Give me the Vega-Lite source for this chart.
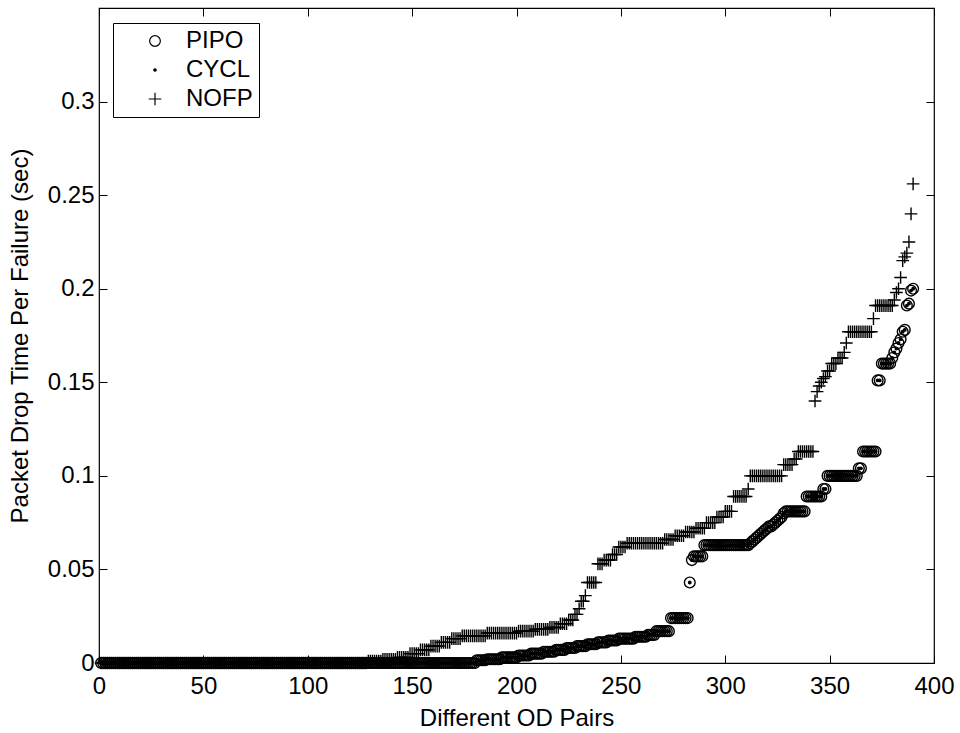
{
"$schema": "https://vega.github.io/schema/vega-lite/v6.json",
"width": 835, "height": 655,
"autosize": {"type": "none"},
"padding": {"left": 99, "top": 8, "right": 26, "bottom": 70},
"background": "white",
"config": {"font": "Liberation Sans", "view": {"stroke": "black", "strokeWidth": 1.2}},
"data": {"values": [
{"i":1,"PIPO":0,"CYCL":0,"NOFP":0},{"i":2,"PIPO":0,"CYCL":0,"NOFP":0},{"i":3,"PIPO":0,"CYCL":0,"NOFP":0},{"i":4,"PIPO":0,"CYCL":0,"NOFP":0},{"i":5,"PIPO":0,"CYCL":0,"NOFP":0},{"i":6,"PIPO":0,"CYCL":0,"NOFP":0},{"i":7,"PIPO":0,"CYCL":0,"NOFP":0},{"i":8,"PIPO":0,"CYCL":0,"NOFP":0},{"i":9,"PIPO":0,"CYCL":0,"NOFP":0},{"i":10,"PIPO":0,"CYCL":0,"NOFP":0},
{"i":11,"PIPO":0,"CYCL":0,"NOFP":0},{"i":12,"PIPO":0,"CYCL":0,"NOFP":0},{"i":13,"PIPO":0,"CYCL":0,"NOFP":0},{"i":14,"PIPO":0,"CYCL":0,"NOFP":0},{"i":15,"PIPO":0,"CYCL":0,"NOFP":0},{"i":16,"PIPO":0,"CYCL":0,"NOFP":0},{"i":17,"PIPO":0,"CYCL":0,"NOFP":0},{"i":18,"PIPO":0,"CYCL":0,"NOFP":0},{"i":19,"PIPO":0,"CYCL":0,"NOFP":0},{"i":20,"PIPO":0,"CYCL":0,"NOFP":0},
{"i":21,"PIPO":0,"CYCL":0,"NOFP":0},{"i":22,"PIPO":0,"CYCL":0,"NOFP":0},{"i":23,"PIPO":0,"CYCL":0,"NOFP":0},{"i":24,"PIPO":0,"CYCL":0,"NOFP":0},{"i":25,"PIPO":0,"CYCL":0,"NOFP":0},{"i":26,"PIPO":0,"CYCL":0,"NOFP":0},{"i":27,"PIPO":0,"CYCL":0,"NOFP":0},{"i":28,"PIPO":0,"CYCL":0,"NOFP":0},{"i":29,"PIPO":0,"CYCL":0,"NOFP":0},{"i":30,"PIPO":0,"CYCL":0,"NOFP":0},
{"i":31,"PIPO":0,"CYCL":0,"NOFP":0},{"i":32,"PIPO":0,"CYCL":0,"NOFP":0},{"i":33,"PIPO":0,"CYCL":0,"NOFP":0},{"i":34,"PIPO":0,"CYCL":0,"NOFP":0},{"i":35,"PIPO":0,"CYCL":0,"NOFP":0},{"i":36,"PIPO":0,"CYCL":0,"NOFP":0},{"i":37,"PIPO":0,"CYCL":0,"NOFP":0},{"i":38,"PIPO":0,"CYCL":0,"NOFP":0},{"i":39,"PIPO":0,"CYCL":0,"NOFP":0},{"i":40,"PIPO":0,"CYCL":0,"NOFP":0},
{"i":41,"PIPO":0,"CYCL":0,"NOFP":0},{"i":42,"PIPO":0,"CYCL":0,"NOFP":0},{"i":43,"PIPO":0,"CYCL":0,"NOFP":0},{"i":44,"PIPO":0,"CYCL":0,"NOFP":0},{"i":45,"PIPO":0,"CYCL":0,"NOFP":0},{"i":46,"PIPO":0,"CYCL":0,"NOFP":0},{"i":47,"PIPO":0,"CYCL":0,"NOFP":0},{"i":48,"PIPO":0,"CYCL":0,"NOFP":0},{"i":49,"PIPO":0,"CYCL":0,"NOFP":0},{"i":50,"PIPO":0,"CYCL":0,"NOFP":0},
{"i":51,"PIPO":0,"CYCL":0,"NOFP":0},{"i":52,"PIPO":0,"CYCL":0,"NOFP":0},{"i":53,"PIPO":0,"CYCL":0,"NOFP":0},{"i":54,"PIPO":0,"CYCL":0,"NOFP":0},{"i":55,"PIPO":0,"CYCL":0,"NOFP":0},{"i":56,"PIPO":0,"CYCL":0,"NOFP":0},{"i":57,"PIPO":0,"CYCL":0,"NOFP":0},{"i":58,"PIPO":0,"CYCL":0,"NOFP":0},{"i":59,"PIPO":0,"CYCL":0,"NOFP":0},{"i":60,"PIPO":0,"CYCL":0,"NOFP":0},
{"i":61,"PIPO":0,"CYCL":0,"NOFP":0},{"i":62,"PIPO":0,"CYCL":0,"NOFP":0},{"i":63,"PIPO":0,"CYCL":0,"NOFP":0},{"i":64,"PIPO":0,"CYCL":0,"NOFP":0},{"i":65,"PIPO":0,"CYCL":0,"NOFP":0},{"i":66,"PIPO":0,"CYCL":0,"NOFP":0},{"i":67,"PIPO":0,"CYCL":0,"NOFP":0},{"i":68,"PIPO":0,"CYCL":0,"NOFP":0},{"i":69,"PIPO":0,"CYCL":0,"NOFP":0},{"i":70,"PIPO":0,"CYCL":0,"NOFP":0},
{"i":71,"PIPO":0,"CYCL":0,"NOFP":0},{"i":72,"PIPO":0,"CYCL":0,"NOFP":0},{"i":73,"PIPO":0,"CYCL":0,"NOFP":0},{"i":74,"PIPO":0,"CYCL":0,"NOFP":0},{"i":75,"PIPO":0,"CYCL":0,"NOFP":0},{"i":76,"PIPO":0,"CYCL":0,"NOFP":0},{"i":77,"PIPO":0,"CYCL":0,"NOFP":0},{"i":78,"PIPO":0,"CYCL":0,"NOFP":0},{"i":79,"PIPO":0,"CYCL":0,"NOFP":0},{"i":80,"PIPO":0,"CYCL":0,"NOFP":0},
{"i":81,"PIPO":0,"CYCL":0,"NOFP":0},{"i":82,"PIPO":0,"CYCL":0,"NOFP":0},{"i":83,"PIPO":0,"CYCL":0,"NOFP":0},{"i":84,"PIPO":0,"CYCL":0,"NOFP":0},{"i":85,"PIPO":0,"CYCL":0,"NOFP":0},{"i":86,"PIPO":0,"CYCL":0,"NOFP":0},{"i":87,"PIPO":0,"CYCL":0,"NOFP":0},{"i":88,"PIPO":0,"CYCL":0,"NOFP":0},{"i":89,"PIPO":0,"CYCL":0,"NOFP":0},{"i":90,"PIPO":0,"CYCL":0,"NOFP":0},
{"i":91,"PIPO":0,"CYCL":0,"NOFP":0},{"i":92,"PIPO":0,"CYCL":0,"NOFP":0},{"i":93,"PIPO":0,"CYCL":0,"NOFP":0},{"i":94,"PIPO":0,"CYCL":0,"NOFP":0},{"i":95,"PIPO":0,"CYCL":0,"NOFP":0},{"i":96,"PIPO":0,"CYCL":0,"NOFP":0},{"i":97,"PIPO":0,"CYCL":0,"NOFP":0},{"i":98,"PIPO":0,"CYCL":0,"NOFP":0},{"i":99,"PIPO":0,"CYCL":0,"NOFP":0},{"i":100,"PIPO":0,"CYCL":0,"NOFP":0},
{"i":101,"PIPO":0,"CYCL":0,"NOFP":0},{"i":102,"PIPO":0,"CYCL":0,"NOFP":0},{"i":103,"PIPO":0,"CYCL":0,"NOFP":0},{"i":104,"PIPO":0,"CYCL":0,"NOFP":0},{"i":105,"PIPO":0,"CYCL":0,"NOFP":0},{"i":106,"PIPO":0,"CYCL":0,"NOFP":0},{"i":107,"PIPO":0,"CYCL":0,"NOFP":0},{"i":108,"PIPO":0,"CYCL":0,"NOFP":0},{"i":109,"PIPO":0,"CYCL":0,"NOFP":0},{"i":110,"PIPO":0,"CYCL":0,"NOFP":0},
{"i":111,"PIPO":0,"CYCL":0,"NOFP":0},{"i":112,"PIPO":0,"CYCL":0,"NOFP":0},{"i":113,"PIPO":0,"CYCL":0,"NOFP":0},{"i":114,"PIPO":0,"CYCL":0,"NOFP":0},{"i":115,"PIPO":0,"CYCL":0,"NOFP":0},{"i":116,"PIPO":0,"CYCL":0,"NOFP":0},{"i":117,"PIPO":0,"CYCL":0,"NOFP":0},{"i":118,"PIPO":0,"CYCL":0,"NOFP":0},{"i":119,"PIPO":0,"CYCL":0,"NOFP":0},{"i":120,"PIPO":0,"CYCL":0,"NOFP":0},
{"i":121,"PIPO":0,"CYCL":0,"NOFP":0},{"i":122,"PIPO":0,"CYCL":0,"NOFP":0},{"i":123,"PIPO":0,"CYCL":0,"NOFP":0},{"i":124,"PIPO":0,"CYCL":0,"NOFP":0},{"i":125,"PIPO":0,"CYCL":0,"NOFP":0},{"i":126,"PIPO":0,"CYCL":0,"NOFP":0},{"i":127,"PIPO":0,"CYCL":0,"NOFP":0},{"i":128,"PIPO":0,"CYCL":0,"NOFP":0},{"i":129,"PIPO":0,"CYCL":0,"NOFP":0.001},{"i":130,"PIPO":0,"CYCL":0,"NOFP":0.001},
{"i":131,"PIPO":0,"CYCL":0,"NOFP":0.001},{"i":132,"PIPO":0,"CYCL":0,"NOFP":0.001},{"i":133,"PIPO":0,"CYCL":0,"NOFP":0.001},{"i":134,"PIPO":0,"CYCL":0,"NOFP":0.001},{"i":135,"PIPO":0,"CYCL":0,"NOFP":0.001},{"i":136,"PIPO":0,"CYCL":0,"NOFP":0.002},{"i":137,"PIPO":0,"CYCL":0,"NOFP":0.002},{"i":138,"PIPO":0,"CYCL":0,"NOFP":0.002},{"i":139,"PIPO":0,"CYCL":0,"NOFP":0.002},{"i":140,"PIPO":0,"CYCL":0,"NOFP":0.002},
{"i":141,"PIPO":0,"CYCL":0,"NOFP":0.002},{"i":142,"PIPO":0,"CYCL":0,"NOFP":0.002},{"i":143,"PIPO":0,"CYCL":0,"NOFP":0.003},{"i":144,"PIPO":0,"CYCL":0,"NOFP":0.003},{"i":145,"PIPO":0,"CYCL":0,"NOFP":0.003},{"i":146,"PIPO":0,"CYCL":0,"NOFP":0.003},{"i":147,"PIPO":0,"CYCL":0,"NOFP":0.003},{"i":148,"PIPO":0,"CYCL":0,"NOFP":0.003},{"i":149,"PIPO":0,"CYCL":0,"NOFP":0.005},{"i":150,"PIPO":0,"CYCL":0,"NOFP":0.005},
{"i":151,"PIPO":0,"CYCL":0,"NOFP":0.005},{"i":152,"PIPO":0,"CYCL":0,"NOFP":0.005},{"i":153,"PIPO":0,"CYCL":0,"NOFP":0.005},{"i":154,"PIPO":0,"CYCL":0,"NOFP":0.007},{"i":155,"PIPO":0,"CYCL":0,"NOFP":0.007},{"i":156,"PIPO":0,"CYCL":0,"NOFP":0.007},{"i":157,"PIPO":0,"CYCL":0,"NOFP":0.007},{"i":158,"PIPO":0,"CYCL":0,"NOFP":0.007},{"i":159,"PIPO":0,"CYCL":0,"NOFP":0.009},{"i":160,"PIPO":0,"CYCL":0,"NOFP":0.009},
{"i":161,"PIPO":0,"CYCL":0,"NOFP":0.009},{"i":162,"PIPO":0,"CYCL":0,"NOFP":0.009},{"i":163,"PIPO":0,"CYCL":0,"NOFP":0.009},{"i":164,"PIPO":0,"CYCL":0,"NOFP":0.011},{"i":165,"PIPO":0,"CYCL":0,"NOFP":0.011},{"i":166,"PIPO":0,"CYCL":0,"NOFP":0.011},{"i":167,"PIPO":0,"CYCL":0,"NOFP":0.011},{"i":168,"PIPO":0,"CYCL":0,"NOFP":0.011},{"i":169,"PIPO":0,"CYCL":0,"NOFP":0.013},{"i":170,"PIPO":0,"CYCL":0,"NOFP":0.013},
{"i":171,"PIPO":0,"CYCL":0,"NOFP":0.013},{"i":172,"PIPO":0,"CYCL":0,"NOFP":0.013},{"i":173,"PIPO":0,"CYCL":0,"NOFP":0.013},{"i":174,"PIPO":0,"CYCL":0,"NOFP":0.0145},{"i":175,"PIPO":0,"CYCL":0,"NOFP":0.0145},{"i":176,"PIPO":0,"CYCL":0,"NOFP":0.0145},{"i":177,"PIPO":0,"CYCL":0,"NOFP":0.0145},{"i":178,"PIPO":0,"CYCL":0,"NOFP":0.0145},{"i":179,"PIPO":0,"CYCL":0,"NOFP":0.0145},{"i":180,"PIPO":0,"CYCL":0,"NOFP":0.0145},
{"i":181,"PIPO":0.0015,"CYCL":0.0015,"NOFP":0.0145},{"i":182,"PIPO":0.0015,"CYCL":0.0015,"NOFP":0.0145},{"i":183,"PIPO":0.0015,"CYCL":0.0015,"NOFP":0.0145},{"i":184,"PIPO":0.0015,"CYCL":0.0015,"NOFP":0.0145},{"i":185,"PIPO":0.0015,"CYCL":0.0015,"NOFP":0.0145},{"i":186,"PIPO":0.002,"CYCL":0.002,"NOFP":0.016},{"i":187,"PIPO":0.002,"CYCL":0.002,"NOFP":0.016},{"i":188,"PIPO":0.002,"CYCL":0.002,"NOFP":0.016},{"i":189,"PIPO":0.002,"CYCL":0.002,"NOFP":0.016},{"i":190,"PIPO":0.002,"CYCL":0.002,"NOFP":0.016},
{"i":191,"PIPO":0.002,"CYCL":0.002,"NOFP":0.016},{"i":192,"PIPO":0.002,"CYCL":0.002,"NOFP":0.016},{"i":193,"PIPO":0.003,"CYCL":0.003,"NOFP":0.016},{"i":194,"PIPO":0.003,"CYCL":0.003,"NOFP":0.016},{"i":195,"PIPO":0.003,"CYCL":0.003,"NOFP":0.016},{"i":196,"PIPO":0.003,"CYCL":0.003,"NOFP":0.016},{"i":197,"PIPO":0.003,"CYCL":0.003,"NOFP":0.016},{"i":198,"PIPO":0.003,"CYCL":0.003,"NOFP":0.016},{"i":199,"PIPO":0.003,"CYCL":0.003,"NOFP":0.016},{"i":200,"PIPO":0.003,"CYCL":0.003,"NOFP":0.016},
{"i":201,"PIPO":0.004,"CYCL":0.004,"NOFP":0.017},{"i":202,"PIPO":0.004,"CYCL":0.004,"NOFP":0.017},{"i":203,"PIPO":0.004,"CYCL":0.004,"NOFP":0.017},{"i":204,"PIPO":0.004,"CYCL":0.004,"NOFP":0.017},{"i":205,"PIPO":0.004,"CYCL":0.004,"NOFP":0.017},{"i":206,"PIPO":0.004,"CYCL":0.004,"NOFP":0.017},{"i":207,"PIPO":0.005,"CYCL":0.005,"NOFP":0.017},{"i":208,"PIPO":0.005,"CYCL":0.005,"NOFP":0.017},{"i":209,"PIPO":0.005,"CYCL":0.005,"NOFP":0.018},{"i":210,"PIPO":0.005,"CYCL":0.005,"NOFP":0.018},
{"i":211,"PIPO":0.005,"CYCL":0.005,"NOFP":0.018},{"i":212,"PIPO":0.005,"CYCL":0.005,"NOFP":0.018},{"i":213,"PIPO":0.006,"CYCL":0.006,"NOFP":0.018},{"i":214,"PIPO":0.006,"CYCL":0.006,"NOFP":0.018},{"i":215,"PIPO":0.006,"CYCL":0.006,"NOFP":0.018},{"i":216,"PIPO":0.006,"CYCL":0.006,"NOFP":0.019},{"i":217,"PIPO":0.006,"CYCL":0.006,"NOFP":0.019},{"i":218,"PIPO":0.006,"CYCL":0.006,"NOFP":0.019},{"i":219,"PIPO":0.007,"CYCL":0.007,"NOFP":0.019},{"i":220,"PIPO":0.007,"CYCL":0.007,"NOFP":0.019},
{"i":221,"PIPO":0.007,"CYCL":0.007,"NOFP":0.021},{"i":222,"PIPO":0.007,"CYCL":0.007,"NOFP":0.021},{"i":223,"PIPO":0.007,"CYCL":0.007,"NOFP":0.021},{"i":224,"PIPO":0.008,"CYCL":0.008,"NOFP":0.021},{"i":225,"PIPO":0.008,"CYCL":0.008,"NOFP":0.023},{"i":226,"PIPO":0.008,"CYCL":0.008,"NOFP":0.023},{"i":227,"PIPO":0.008,"CYCL":0.008,"NOFP":0.023},{"i":228,"PIPO":0.008,"CYCL":0.008,"NOFP":0.026},{"i":229,"PIPO":0.009,"CYCL":0.009,"NOFP":0.026},{"i":230,"PIPO":0.009,"CYCL":0.009,"NOFP":0.029},
{"i":231,"PIPO":0.009,"CYCL":0.009,"NOFP":0.033},{"i":232,"PIPO":0.009,"CYCL":0.009,"NOFP":0.033},{"i":233,"PIPO":0.009,"CYCL":0.009,"NOFP":0.036},{"i":234,"PIPO":0.01,"CYCL":0.01,"NOFP":0.043},{"i":235,"PIPO":0.01,"CYCL":0.01,"NOFP":0.043},{"i":236,"PIPO":0.01,"CYCL":0.01,"NOFP":0.043},{"i":237,"PIPO":0.01,"CYCL":0.01,"NOFP":0.043},{"i":238,"PIPO":0.01,"CYCL":0.01,"NOFP":0.043},{"i":239,"PIPO":0.011,"CYCL":0.011,"NOFP":0.053},{"i":240,"PIPO":0.011,"CYCL":0.011,"NOFP":0.053},
{"i":241,"PIPO":0.011,"CYCL":0.011,"NOFP":0.053},{"i":242,"PIPO":0.011,"CYCL":0.011,"NOFP":0.055},{"i":243,"PIPO":0.011,"CYCL":0.011,"NOFP":0.055},{"i":244,"PIPO":0.012,"CYCL":0.012,"NOFP":0.055},{"i":245,"PIPO":0.012,"CYCL":0.012,"NOFP":0.055},{"i":246,"PIPO":0.012,"CYCL":0.012,"NOFP":0.058},{"i":247,"PIPO":0.012,"CYCL":0.012,"NOFP":0.058},{"i":248,"PIPO":0.012,"CYCL":0.012,"NOFP":0.058},{"i":249,"PIPO":0.013,"CYCL":0.013,"NOFP":0.062},{"i":250,"PIPO":0.013,"CYCL":0.013,"NOFP":0.062},
{"i":251,"PIPO":0.013,"CYCL":0.013,"NOFP":0.062},{"i":252,"PIPO":0.013,"CYCL":0.013,"NOFP":0.062},{"i":253,"PIPO":0.013,"CYCL":0.013,"NOFP":0.064},{"i":254,"PIPO":0.013,"CYCL":0.013,"NOFP":0.064},{"i":255,"PIPO":0.013,"CYCL":0.013,"NOFP":0.064},{"i":256,"PIPO":0.013,"CYCL":0.013,"NOFP":0.064},{"i":257,"PIPO":0.014,"CYCL":0.014,"NOFP":0.064},{"i":258,"PIPO":0.014,"CYCL":0.014,"NOFP":0.064},{"i":259,"PIPO":0.014,"CYCL":0.014,"NOFP":0.064},{"i":260,"PIPO":0.014,"CYCL":0.014,"NOFP":0.064},
{"i":261,"PIPO":0.014,"CYCL":0.014,"NOFP":0.064},{"i":262,"PIPO":0.014,"CYCL":0.014,"NOFP":0.064},{"i":263,"PIPO":0.015,"CYCL":0.015,"NOFP":0.064},{"i":264,"PIPO":0.015,"CYCL":0.015,"NOFP":0.064},{"i":265,"PIPO":0.015,"CYCL":0.015,"NOFP":0.064},{"i":266,"PIPO":0.015,"CYCL":0.015,"NOFP":0.064},{"i":267,"PIPO":0.017,"CYCL":0.017,"NOFP":0.064},{"i":268,"PIPO":0.017,"CYCL":0.017,"NOFP":0.064},{"i":269,"PIPO":0.017,"CYCL":0.017,"NOFP":0.064},{"i":270,"PIPO":0.017,"CYCL":0.017,"NOFP":0.064},
{"i":271,"PIPO":0.017,"CYCL":0.017,"NOFP":0.066},{"i":272,"PIPO":0.017,"CYCL":0.017,"NOFP":0.066},{"i":273,"PIPO":0.017,"CYCL":0.017,"NOFP":0.066},{"i":274,"PIPO":0.024,"CYCL":0.024,"NOFP":0.066},{"i":275,"PIPO":0.024,"CYCL":0.024,"NOFP":0.066},{"i":276,"PIPO":0.024,"CYCL":0.024,"NOFP":0.068},{"i":277,"PIPO":0.024,"CYCL":0.024,"NOFP":0.068},{"i":278,"PIPO":0.024,"CYCL":0.024,"NOFP":0.068},{"i":279,"PIPO":0.024,"CYCL":0.024,"NOFP":0.068},{"i":280,"PIPO":0.024,"CYCL":0.024,"NOFP":0.068},
{"i":281,"PIPO":0.024,"CYCL":0.024,"NOFP":0.07},{"i":282,"PIPO":0.024,"CYCL":0.024,"NOFP":0.07},{"i":283,"PIPO":0.043,"CYCL":0.043,"NOFP":0.07},{"i":284,"PIPO":0.055,"CYCL":0.055,"NOFP":0.07},{"i":285,"PIPO":0.057,"CYCL":0.057,"NOFP":0.07},{"i":286,"PIPO":0.057,"CYCL":0.057,"NOFP":0.072},{"i":287,"PIPO":0.057,"CYCL":0.057,"NOFP":0.072},{"i":288,"PIPO":0.057,"CYCL":0.057,"NOFP":0.072},{"i":289,"PIPO":0.057,"CYCL":0.057,"NOFP":0.072},{"i":290,"PIPO":0.063,"CYCL":0.063,"NOFP":0.072},
{"i":291,"PIPO":0.063,"CYCL":0.063,"NOFP":0.075},{"i":292,"PIPO":0.063,"CYCL":0.063,"NOFP":0.075},{"i":293,"PIPO":0.063,"CYCL":0.063,"NOFP":0.075},{"i":294,"PIPO":0.063,"CYCL":0.063,"NOFP":0.075},{"i":295,"PIPO":0.063,"CYCL":0.063,"NOFP":0.075},{"i":296,"PIPO":0.063,"CYCL":0.063,"NOFP":0.078},{"i":297,"PIPO":0.063,"CYCL":0.063,"NOFP":0.078},{"i":298,"PIPO":0.063,"CYCL":0.063,"NOFP":0.078},{"i":299,"PIPO":0.063,"CYCL":0.063,"NOFP":0.078},{"i":300,"PIPO":0.063,"CYCL":0.063,"NOFP":0.081},
{"i":301,"PIPO":0.063,"CYCL":0.063,"NOFP":0.081},{"i":302,"PIPO":0.063,"CYCL":0.063,"NOFP":0.081},{"i":303,"PIPO":0.063,"CYCL":0.063,"NOFP":0.081},{"i":304,"PIPO":0.063,"CYCL":0.063,"NOFP":0.089},{"i":305,"PIPO":0.063,"CYCL":0.063,"NOFP":0.089},{"i":306,"PIPO":0.063,"CYCL":0.063,"NOFP":0.089},{"i":307,"PIPO":0.063,"CYCL":0.063,"NOFP":0.089},{"i":308,"PIPO":0.063,"CYCL":0.063,"NOFP":0.089},{"i":309,"PIPO":0.063,"CYCL":0.063,"NOFP":0.089},{"i":310,"PIPO":0.063,"CYCL":0.063,"NOFP":0.089},
{"i":311,"PIPO":0.063,"CYCL":0.063,"NOFP":0.093},{"i":312,"PIPO":0.064,"CYCL":0.064,"NOFP":0.1},{"i":313,"PIPO":0.065,"CYCL":0.065,"NOFP":0.1},{"i":314,"PIPO":0.066,"CYCL":0.066,"NOFP":0.1},{"i":315,"PIPO":0.067,"CYCL":0.067,"NOFP":0.1},{"i":316,"PIPO":0.068,"CYCL":0.068,"NOFP":0.1},{"i":317,"PIPO":0.069,"CYCL":0.069,"NOFP":0.1},{"i":318,"PIPO":0.07,"CYCL":0.07,"NOFP":0.1},{"i":319,"PIPO":0.071,"CYCL":0.071,"NOFP":0.1},{"i":320,"PIPO":0.072,"CYCL":0.072,"NOFP":0.1},
{"i":321,"PIPO":0.073,"CYCL":0.073,"NOFP":0.1},{"i":322,"PIPO":0.073,"CYCL":0.073,"NOFP":0.1},{"i":323,"PIPO":0.074,"CYCL":0.074,"NOFP":0.1},{"i":324,"PIPO":0.075,"CYCL":0.075,"NOFP":0.1},{"i":325,"PIPO":0.076,"CYCL":0.076,"NOFP":0.1},{"i":326,"PIPO":0.077,"CYCL":0.077,"NOFP":0.1},{"i":327,"PIPO":0.078,"CYCL":0.078,"NOFP":0.1},{"i":328,"PIPO":0.08,"CYCL":0.08,"NOFP":0.106},{"i":329,"PIPO":0.081,"CYCL":0.081,"NOFP":0.106},{"i":330,"PIPO":0.081,"CYCL":0.081,"NOFP":0.106},
{"i":331,"PIPO":0.081,"CYCL":0.081,"NOFP":0.106},{"i":332,"PIPO":0.081,"CYCL":0.081,"NOFP":0.106},{"i":333,"PIPO":0.081,"CYCL":0.081,"NOFP":0.109},{"i":334,"PIPO":0.081,"CYCL":0.081,"NOFP":0.109},{"i":335,"PIPO":0.081,"CYCL":0.081,"NOFP":0.113},{"i":336,"PIPO":0.081,"CYCL":0.081,"NOFP":0.113},{"i":337,"PIPO":0.081,"CYCL":0.081,"NOFP":0.113},{"i":338,"PIPO":0.081,"CYCL":0.081,"NOFP":0.113},{"i":339,"PIPO":0.089,"CYCL":0.089,"NOFP":0.113},{"i":340,"PIPO":0.089,"CYCL":0.089,"NOFP":0.113},
{"i":341,"PIPO":0.089,"CYCL":0.089,"NOFP":0.113},{"i":342,"PIPO":0.089,"CYCL":0.089,"NOFP":0.113},{"i":343,"PIPO":0.089,"CYCL":0.089,"NOFP":0.14},{"i":344,"PIPO":0.089,"CYCL":0.089,"NOFP":0.145},{"i":345,"PIPO":0.089,"CYCL":0.089,"NOFP":0.148},{"i":346,"PIPO":0.089,"CYCL":0.089,"NOFP":0.15},{"i":347,"PIPO":0.093,"CYCL":0.093,"NOFP":0.152},{"i":348,"PIPO":0.093,"CYCL":0.093,"NOFP":0.153},{"i":349,"PIPO":0.1,"CYCL":0.1,"NOFP":0.156},{"i":350,"PIPO":0.1,"CYCL":0.1,"NOFP":0.156},
{"i":351,"PIPO":0.1,"CYCL":0.1,"NOFP":0.16},{"i":352,"PIPO":0.1,"CYCL":0.1,"NOFP":0.16},{"i":353,"PIPO":0.1,"CYCL":0.1,"NOFP":0.16},{"i":354,"PIPO":0.1,"CYCL":0.1,"NOFP":0.163},{"i":355,"PIPO":0.1,"CYCL":0.1,"NOFP":0.163},{"i":356,"PIPO":0.1,"CYCL":0.1,"NOFP":0.163},{"i":357,"PIPO":0.1,"CYCL":0.1,"NOFP":0.166},{"i":358,"PIPO":0.1,"CYCL":0.1,"NOFP":0.171},{"i":359,"PIPO":0.1,"CYCL":0.1,"NOFP":0.177},{"i":360,"PIPO":0.1,"CYCL":0.1,"NOFP":0.177},
{"i":361,"PIPO":0.1,"CYCL":0.1,"NOFP":0.177},{"i":362,"PIPO":0.1,"CYCL":0.1,"NOFP":0.177},{"i":363,"PIPO":0.1,"CYCL":0.1,"NOFP":0.177},{"i":364,"PIPO":0.104,"CYCL":0.104,"NOFP":0.177},{"i":365,"PIPO":0.104,"CYCL":0.104,"NOFP":0.177},{"i":366,"PIPO":0.113,"CYCL":0.113,"NOFP":0.177},{"i":367,"PIPO":0.113,"CYCL":0.113,"NOFP":0.177},{"i":368,"PIPO":0.113,"CYCL":0.113,"NOFP":0.177},{"i":369,"PIPO":0.113,"CYCL":0.113,"NOFP":0.177},{"i":370,"PIPO":0.113,"CYCL":0.113,"NOFP":0.177},
{"i":371,"PIPO":0.113,"CYCL":0.113,"NOFP":0.184},{"i":372,"PIPO":0.113,"CYCL":0.113,"NOFP":0.191},{"i":373,"PIPO":0.151,"CYCL":0.151,"NOFP":0.191},{"i":374,"PIPO":0.151,"CYCL":0.151,"NOFP":0.191},{"i":375,"PIPO":0.16,"CYCL":0.16,"NOFP":0.191},{"i":376,"PIPO":0.16,"CYCL":0.16,"NOFP":0.191},{"i":377,"PIPO":0.16,"CYCL":0.16,"NOFP":0.191},{"i":378,"PIPO":0.16,"CYCL":0.16,"NOFP":0.191},{"i":379,"PIPO":0.16,"CYCL":0.16,"NOFP":0.191},{"i":380,"PIPO":0.163,"CYCL":0.163,"NOFP":0.191},
{"i":381,"PIPO":0.166,"CYCL":0.166,"NOFP":0.194},{"i":382,"PIPO":0.168,"CYCL":0.168,"NOFP":0.198},{"i":383,"PIPO":0.171,"CYCL":0.171,"NOFP":0.2},{"i":384,"PIPO":0.173,"CYCL":0.173,"NOFP":0.206},{"i":385,"PIPO":0.177,"CYCL":0.177,"NOFP":0.215},{"i":386,"PIPO":0.178,"CYCL":0.178,"NOFP":0.217},{"i":387,"PIPO":0.191,"CYCL":0.191,"NOFP":0.219},{"i":388,"PIPO":0.192,"CYCL":0.192,"NOFP":0.225},{"i":389,"PIPO":0.199,"CYCL":0.199,"NOFP":0.24},{"i":390,"PIPO":0.2,"CYCL":0.2,"NOFP":0.256}
]},
"transform": [{"fold": ["PIPO", "CYCL", "NOFP"], "as": ["series", "value"]}],
"layer": [
{
"mark": {"type": "point", "filled": false, "stroke": "black", "strokeWidth": 1.4, "opacity": 1},
"encoding": {
"x": {"field": "i", "type": "quantitative", "scale": {"domain": [0, 400], "nice": false, "zero": false},
 "axis": {"title": "Different OD Pairs", "values": [0,50,100,150,200,250,300,350,400], "grid": false, "domain": false, "tickSize": -8, "tickColor": "black", "tickWidth": 1, "labelFontSize": 24, "labelColor": "black", "labelPadding": 19, "labelFlush": false, "titleFontSize": 24, "titleFontWeight": "normal", "titleColor": "black", "titlePadding": 8}},
"y": {"field": "value", "type": "quantitative", "scale": {"domain": [0, 0.35], "nice": false},
 "axis": {"title": "Packet Drop Time Per Failure (sec)", "values": [0,0.05,0.1,0.15,0.2,0.25,0.3], "format": "~g", "grid": false, "domain": false, "tickSize": -8, "tickColor": "black", "tickWidth": 1, "labelFontSize": 24, "labelColor": "black", "labelPadding": 13, "labelFlush": false, "titleFontSize": 24, "titleFontWeight": "normal", "titleColor": "black", "titlePadding": 15}},
"shape": {"field": "series", "type": "nominal", "scale": {"domain": ["PIPO", "CYCL", "NOFP"], "range": ["circle", "circle", "M-1,0H1M0,-1V1"]},
 "legend": {"title": null, "orient": "none", "legendX": 14, "legendY": 15, "labelFontSize": 24, "labelColor": "black", "padding": 6, "strokeColor": "black", "fillColor": "white", "symbolOffset": 24, "labelOffset": 19, "rowPadding": 5, "symbolStrokeColor": "black", "symbolStrokeWidth": 1.2}},
"size": {"field": "series", "type": "nominal", "scale": {"type": "ordinal", "domain": ["PIPO", "CYCL", "NOFP"], "range": [115, 6, 160]}},
"fill": {"field": "series", "type": "nominal", "scale": {"domain": ["PIPO", "CYCL", "NOFP"], "range": ["transparent", "black", "transparent"]}}
}
},
{
"mark": {"type": "point", "opacity": 0},
"encoding": {
"x": {"field": "i", "type": "quantitative", "axis": {"orient": "top", "title": null, "labels": false, "values": [0,50,100,150,200,250,300,350,400], "grid": false, "domain": false, "tickSize": -8, "tickColor": "black"}},
"y": {"field": "value", "type": "quantitative", "axis": {"orient": "right", "title": null, "labels": false, "values": [0,0.05,0.1,0.15,0.2,0.25,0.3], "grid": false, "domain": false, "tickSize": -8, "tickColor": "black"}}
}
}
],
"resolve": {"axis": {"x": "independent", "y": "independent"}}
}
